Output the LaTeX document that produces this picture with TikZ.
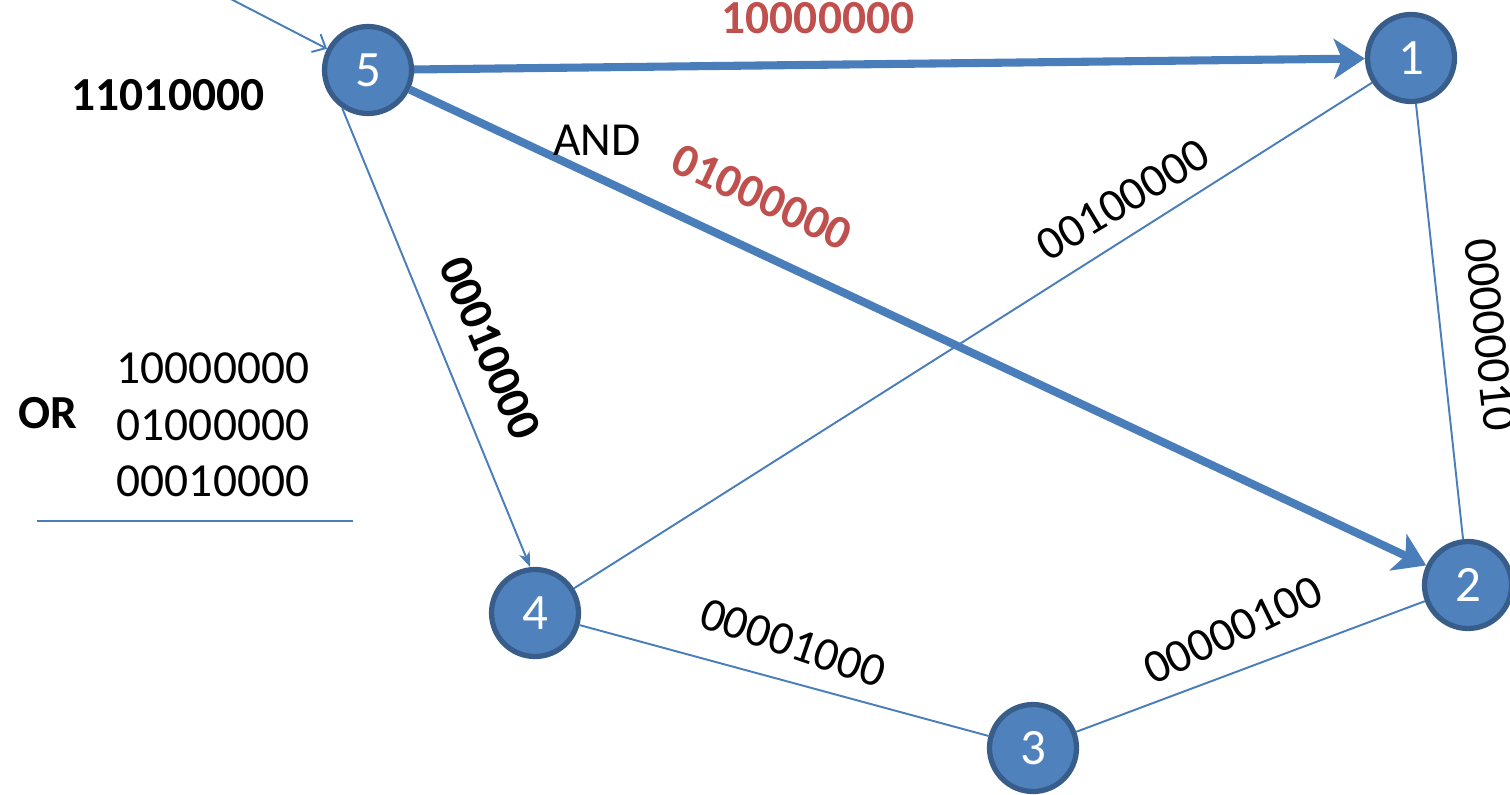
\documentclass[tikz,border=0pt]{standalone}
\usepackage{fontspec}
\setmainfont{Carlito}
\usetikzlibrary{arrows.meta}
\definecolor{nodeblue}{HTML}{4F81BD}
\definecolor{rimblue}{HTML}{385D8A}
\definecolor{edgeblue}{HTML}{4A7EBB}
\definecolor{bitred}{HTML}{C0504D}
\newcommand{\bitsize}{\fontsize{27}{32.3}\selectfont}

\begin{document}
\begin{tikzpicture}[
  x=0.02cm, y=-0.02cm,
  vertex/.style={circle, draw=rimblue, line width=3pt, fill=nodeblue, minimum size=1.74cm, inner sep=0pt, text=white, font=\fontsize{29}{32}\selectfont},
  link/.style={draw=edgeblue, line width=1.1pt},
  thinarrow/.style={link, -{Stealth[length=0.3cm, width=0.22cm, inset=0.08cm]}},
  openarrow/.style={link, -{Straight Barb[length=0.22cm, width=0.4cm]}},
  thickarrow/.style={draw=edgeblue, line width=4.6pt, -{Stealth[length=0.62cm, width=0.8cm, inset=0.16cm]}},
  bits/.style={font=\bitsize, inner sep=0pt},
  redbits/.style={bits, text=bitred, font=\bitsize\bfseries}
]
  \useasboundingbox (0,0) rectangle (1510,794);

  % graph nodes
  \node[vertex] (n5) at (368,70) {5};
  \node[vertex] (n1) at (1411,58) {1};
  \node[vertex] (n2) at (1468,585) {2};
  \node[vertex] (n3) at (1033,748) {3};
  \node[vertex] (n4) at (535,613) {4};
  \coordinate (in) at (225,-4);

  % edges
  \draw[openarrow] (in) -- (n5);
  \draw[thickarrow] (n5) -- (n1);
  \draw[thickarrow] (n5) -- (n2);
  \draw[thinarrow] (n5.236) -- (n4.96);
  \draw[link] (n4) -- (n1);
  \draw[link] (n1) -- (n2);
  \draw[link] (n4) -- (n3);
  \draw[link] (n3) -- (n2);

  % edge labels
  \node[redbits] (b51) at (818,18) {10000000};
  \node[bits] (and) at (597,140) {AND};
  \node[redbits, rotate=-25] (b52) at (762,197) {01000000};
  \node[bits, font=\bitsize\bfseries, rotate=-67] (b54) at (490,348) {00010000};
  \node[bits, rotate=31] (b41) at (1123,200) {00100000};
  \node[bits, rotate=-84] (b12) at (1490,335) {00000010};
  \node[bits, rotate=-19] (b43) at (793,643) {00001000};
  \node[bits, rotate=26] (b32) at (1233,630) {00000100};

  % left side
  \node[bits, font=\bitsize\bfseries] (sum) at (168,95) {11010000};
  \node[bits, font=\bitsize\bfseries] (or) at (48,413) {OR};
  \node[bits, align=left] (terms) at (213,425) {10000000\\01000000\\00010000};
  \draw[link] (37,521) -- (353,521);
\end{tikzpicture}
\end{document}
